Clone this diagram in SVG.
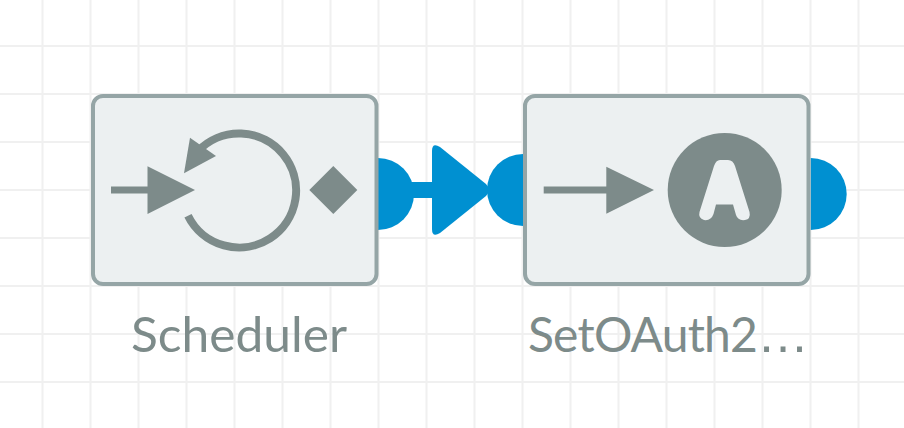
<svg xmlns="http://www.w3.org/2000/svg" width="904" height="428" viewBox="0 0 904 428">
<style>
.bg{fill:#fff}
.grid{stroke:#f0f0f0;stroke-width:2;fill:none}
.box{fill:#ecf0f1;stroke:#95a5a6;stroke-width:4}
.ic{fill:#7d8b8a}
.arc{fill:none;stroke:#7d8b8a;stroke-width:8}
.port{fill:#0090d1}
.lbl{font-family:"Lato","Noto Sans",sans-serif;font-size:48px;fill:#7d8b8a}
.dots{font-family:"Liberation Sans",sans-serif;font-size:52px;letter-spacing:0}
</style>
<rect class="bg" width="904" height="428"/>
<path class="grid" d="M42.500 0V428M90.500 0V428M138.500 0V428M186.500 0V428M234.500 0V428M282.500 0V428M330.500 0V428M378.500 0V428M426.500 0V428M474.500 0V428M522.500 0V428M570.500 0V428M618.500 0V428M666.500 0V428M714.500 0V428M762.500 0V428M810.500 0V428M858.500 0V428M0 46H904M0 94H904M0 142H904M0 190H904M0 238H904M0 286H904M0 334H904M0 382H904"/>
<g id="connectors">
<path class="port" d="M378 158A36 36 0 0 1 378 230Z"/>
<rect class="port" x="410" y="182" width="30" height="16"/>
<path class="port" d="M432 151Q432 142 440 147L486 184Q492 190 486 196L440 233Q432 238 432 229Z"/>
<path class="port" d="M523 154A36 36 0 0 0 523 226Z"/>
<path class="port" d="M810.700 158A36 36 0 0 1 810.700 230Z"/>
</g>
<g id="scheduler">
<rect class="box" x="93" y="96" width="283.500" height="188" rx="10"/>
<path class="ic" d="M111 186.500H147.500V166.300L195 190L147.500 214V193.500H111Z"/>
<path class="arc" d="M198 151A57 57 0 1 1 188 215.700"/>
<path class="ic" d="M190 137.700L216 156L184 173.300Z"/>
<path class="ic" d="M309.300 190L333.300 166L357.300 190L333.300 214Z"/>
<text class="lbl" x="131" y="352" textLength="216" lengthAdjust="spacingAndGlyphs">Scheduler</text>
</g>
<g id="setoauth2">
<rect class="box" x="525" y="96" width="283.500" height="188" rx="10"/>
<path class="ic" d="M543.700 186.500H606.300V166.700L654 190L606.300 213.700V193.500H543.700Z"/>
<circle class="ic" cx="724.700" cy="190" r="57"/>
<path fill="#ecf0f1" d="M720 160H728Q733 160 735 166L749.500 212Q751 219 745 220Q738 221 736 215L733 204.500H716L713.500 214Q711 221 704 220Q698 218 699.500 212L714 166Q716 160 720 160Z"/>
<text class="lbl" x="528" y="352"><tspan style="letter-spacing:-0.8px">SetOAuth2</tspan><tspan class="dots" x="757">…</tspan></text>
</g>
</svg>
